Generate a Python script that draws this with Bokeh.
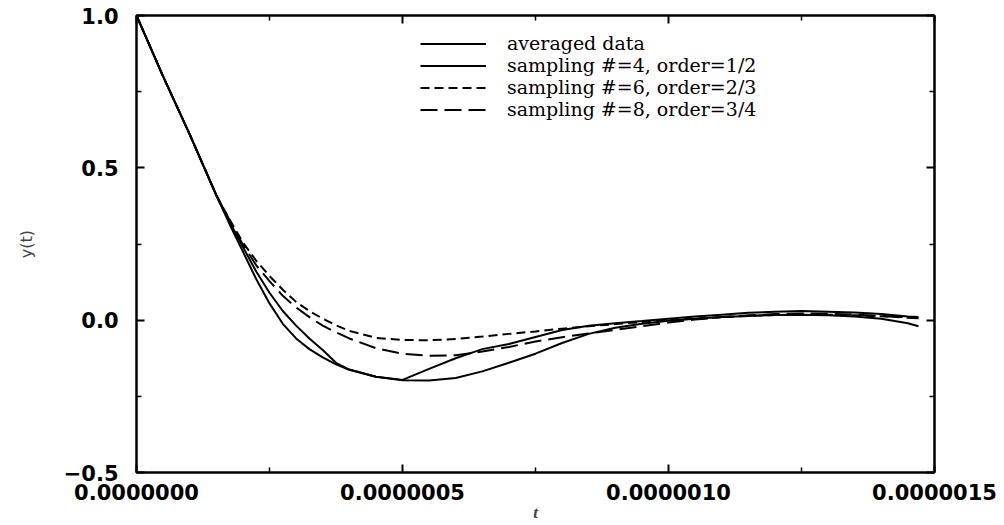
from bokeh.plotting import figure
from bokeh.models import (Range1d, LinearAxis, FixedTicker, PrintfTickFormatter,
                          CustomJSTickFormatter, Legend, LegendItem)
from bokeh.embed import file_html
from bokeh.resources import INLINE

# time axis (seconds)
t = [0.0, 0.05e-6, 0.10e-6, 0.15e-6, 0.175e-6, 0.20e-6, 0.225e-6, 0.25e-6,
     0.275e-6, 0.30e-6, 0.325e-6, 0.35e-6, 0.375e-6, 0.40e-6,
     0.45e-6, 0.50e-6, 0.55e-6, 0.60e-6, 0.65e-6, 0.70e-6, 0.75e-6, 0.80e-6,
     0.85e-6, 0.90e-6, 0.95e-6, 1.00e-6, 1.05e-6, 1.10e-6, 1.15e-6, 1.20e-6,
     1.25e-6, 1.30e-6, 1.35e-6, 1.40e-6, 1.45e-6, 1.47e-6]

averaged = [1.0, 0.80, 0.61, 0.41, 0.322, 0.24, 0.16, 0.09,
            0.03, -0.018, -0.06, -0.098, -0.14, -0.162,
            -0.186, -0.196, -0.16, -0.125, -0.095, -0.078, -0.055, -0.032,
            -0.018, -0.01, -0.003, 0.005, 0.012, 0.018, 0.024, 0.028,
            0.03, 0.028, 0.025, 0.02, 0.012, 0.01]

samp4 = [1.0, 0.80, 0.61, 0.41, 0.315, 0.225, 0.135, 0.055,
         -0.012, -0.06, -0.095, -0.122, -0.145, -0.163,
         -0.186, -0.197, -0.198, -0.19, -0.168, -0.14, -0.11, -0.075,
         -0.045, -0.025, -0.012, -0.002, 0.005, 0.01, 0.014, 0.017,
         0.018, 0.016, 0.012, 0.005, -0.01, -0.02]

samp6 = [1.0, 0.80, 0.61, 0.41, 0.33, 0.255, 0.195, 0.145,
         0.10, 0.06, 0.03, 0.005, -0.017, -0.035,
         -0.058, -0.065, -0.066, -0.062, -0.054, -0.045, -0.037, -0.028,
         -0.02, -0.013, -0.006, 0.0, 0.005, 0.01, 0.014, 0.017,
         0.018, 0.018, 0.016, 0.013, 0.01, 0.008]

samp8 = [1.0, 0.80, 0.61, 0.41, 0.328, 0.248, 0.18, 0.128,
         0.08, 0.042, 0.01, -0.018, -0.04, -0.06,
         -0.092, -0.11, -0.117, -0.115, -0.103, -0.088, -0.07, -0.056,
         -0.044, -0.032, -0.02, -0.008, 0.002, 0.01, 0.016, 0.02,
         0.022, 0.021, 0.018, 0.014, 0.008, 0.006]

labels = ["averaged data", "sampling #=4, order=1/2",
          "sampling #=6, order=2/3", "sampling #=8, order=3/4"]

x_ticks = [0.0, 0.5e-6, 1.0e-6, 1.5e-6]
x_minor = [0.25e-6, 0.75e-6, 1.25e-6]
y_ticks = [-0.5, 0.0, 0.5, 1.0]
y_minor = [-0.25, 0.25, 0.75]

TICK_FONT = "DejaVu Sans"

p = figure(width=1004, height=525, output_backend="svg", toolbar_location=None,
           x_range=Range1d(0, 1.5e-6), y_range=Range1d(-0.5, 1.0),
           min_border_left=136, min_border_right=70, min_border_top=15,
           min_border_bottom=53)
p.grid.visible = False
p.outline_line_color = "black"
p.outline_line_width = 2
p.background_fill_color = "white"
p.border_fill_color = "white"

xt = FixedTicker(ticks=x_ticks, minor_ticks=x_minor)
yt = FixedTicker(ticks=y_ticks, minor_ticks=y_minor)

def style(ax, show_labels):
    ax.axis_line_color = "black"
    ax.axis_line_width = 2
    ax.major_tick_in = 8
    ax.major_tick_out = 0
    ax.minor_tick_in = 5
    ax.minor_tick_out = 0
    ax.major_tick_line_width = 2
    ax.minor_tick_line_width = 1.5
    ax.major_tick_line_color = "black"
    ax.minor_tick_line_color = "black"
    if show_labels:
        ax.major_label_text_font = TICK_FONT
        ax.major_label_text_font_style = "bold"
        ax.major_label_text_font_size = "21px"
        ax.major_label_text_color = "black"
    else:
        ax.major_label_text_font_size = "0px"

xa = p.xaxis[0]
xa.ticker = xt
xa.formatter = PrintfTickFormatter(format="%.7f")
style(xa, True)
xa.major_label_standoff = 11
xa.axis_label = "t"
xa.axis_label_text_font = "Liberation Serif"
xa.axis_label_text_font_style = "bold italic"
xa.axis_label_text_font_size = "17px"
xa.axis_label_standoff = 0

ya = p.yaxis[0]
ya.ticker = yt
ya.formatter = CustomJSTickFormatter(code="return tick.toFixed(1).replace('-', '\u2212')")
style(ya, True)
ya.major_label_standoff = 18
ya.axis_label = "y(t)"
ya.axis_label_text_font = "DejaVu Sans"
ya.axis_label_text_font_style = "normal"
ya.axis_label_text_font_size = "16px"
ya.axis_label_standoff = 25

top = LinearAxis(ticker=FixedTicker(ticks=x_ticks, minor_ticks=x_minor))
style(top, False)
p.add_layout(top, "above")
right = LinearAxis(ticker=FixedTicker(ticks=y_ticks, minor_ticks=y_minor))
style(right, False)
p.add_layout(right, "right")

r1 = p.line(t, averaged, line_color="black", line_width=2)
r2 = p.line(t, samp4, line_color="black", line_width=2)
r3 = p.line(t, samp6, line_color="black", line_width=2, line_dash="9 5")
r4 = p.line(t, samp8, line_color="black", line_width=2, line_dash="17 7")

legend = Legend(items=[LegendItem(label=labels[0], renderers=[r1]),
                       LegendItem(label=labels[1], renderers=[r2]),
                       LegendItem(label=labels[2], renderers=[r3]),
                       LegendItem(label=labels[3], renderers=[r4])],
                location=(284, 352), glyph_width=66, glyph_height=21,
                label_height=21, spacing=0, padding=0, margin=0,
                label_standoff=21, label_text_font="DejaVu Serif",
                label_text_font_size="19px", label_text_color="black",
                border_line_alpha=0, background_fill_alpha=0)
p.add_layout(legend)

open("out.html", "w").write(file_html(p, INLINE))
